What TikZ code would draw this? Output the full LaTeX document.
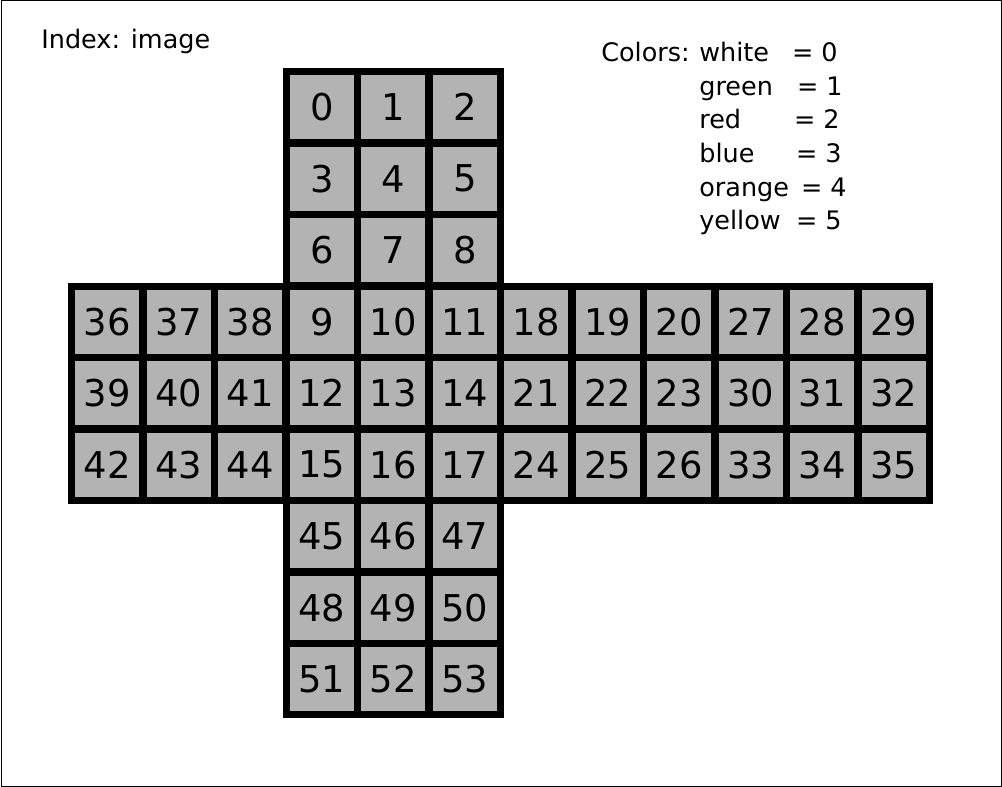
\documentclass[tikz,border=0pt]{standalone}
\usepackage{fontspec}
\setmainfont{DejaVu Sans}
\definecolor{cellgray}{RGB}{179,179,179}
\tikzset{
  sticker/.style={draw, rectangle, line width=0.14cm, fill=cellgray, minimum size=1.43cm, inner sep=0pt, font=\fontsize{21}{25}\selectfont},
  caption/.style={anchor=base west, inner sep=0pt, font=\fontsize{14.5}{17}\selectfont},
  value/.style={anchor=base east, inner sep=0pt, font=\fontsize{14.5}{17}\selectfont}
}
\begin{document}
\begin{tikzpicture}[x=0.02cm, y=-0.02cm]
	\useasboundingbox (0,0) rectangle (1002,787);
	\draw[line width=0.02cm] (1,1) rectangle (1001,786);
	% faces: first index / column / row
	\foreach \f/\col/\row in {0/3/0, 9/3/3, 18/6/3, 27/9/3, 36/0/3, 45/3/6} {
		\foreach \i in {0,...,8} {
			\pgfmathtruncatemacro{\n}{\f+\i}
			\pgfmathsetmacro{\cx}{71.5*(\col+mod(\i,3)+1.5)}
			\pgfmathsetmacro{\cy}{71.5*(\row+floor(\i/3)+1.5)}
			\node[sticker] (c\n) at (\cx, \cy) {\n};
		}
	}
	\node[caption] (index) at (41, 48.5) {Index: image};
	\node[caption] (colors) at (601, 61.5) {Colors:};
	\foreach \name/\v/\xe [count=\k from 0] in {white/0/838, green/1/843, red/2/840, blue/3/842, orange/4/847, yellow/5/842} {
		\node[caption] (lbl\k) at (699, 61.5+33.7*\k) {\name};
		\node[value] (val\k) at (\xe, 61.5+33.7*\k) {= \v};
	}
\end{tikzpicture}
\end{document}
